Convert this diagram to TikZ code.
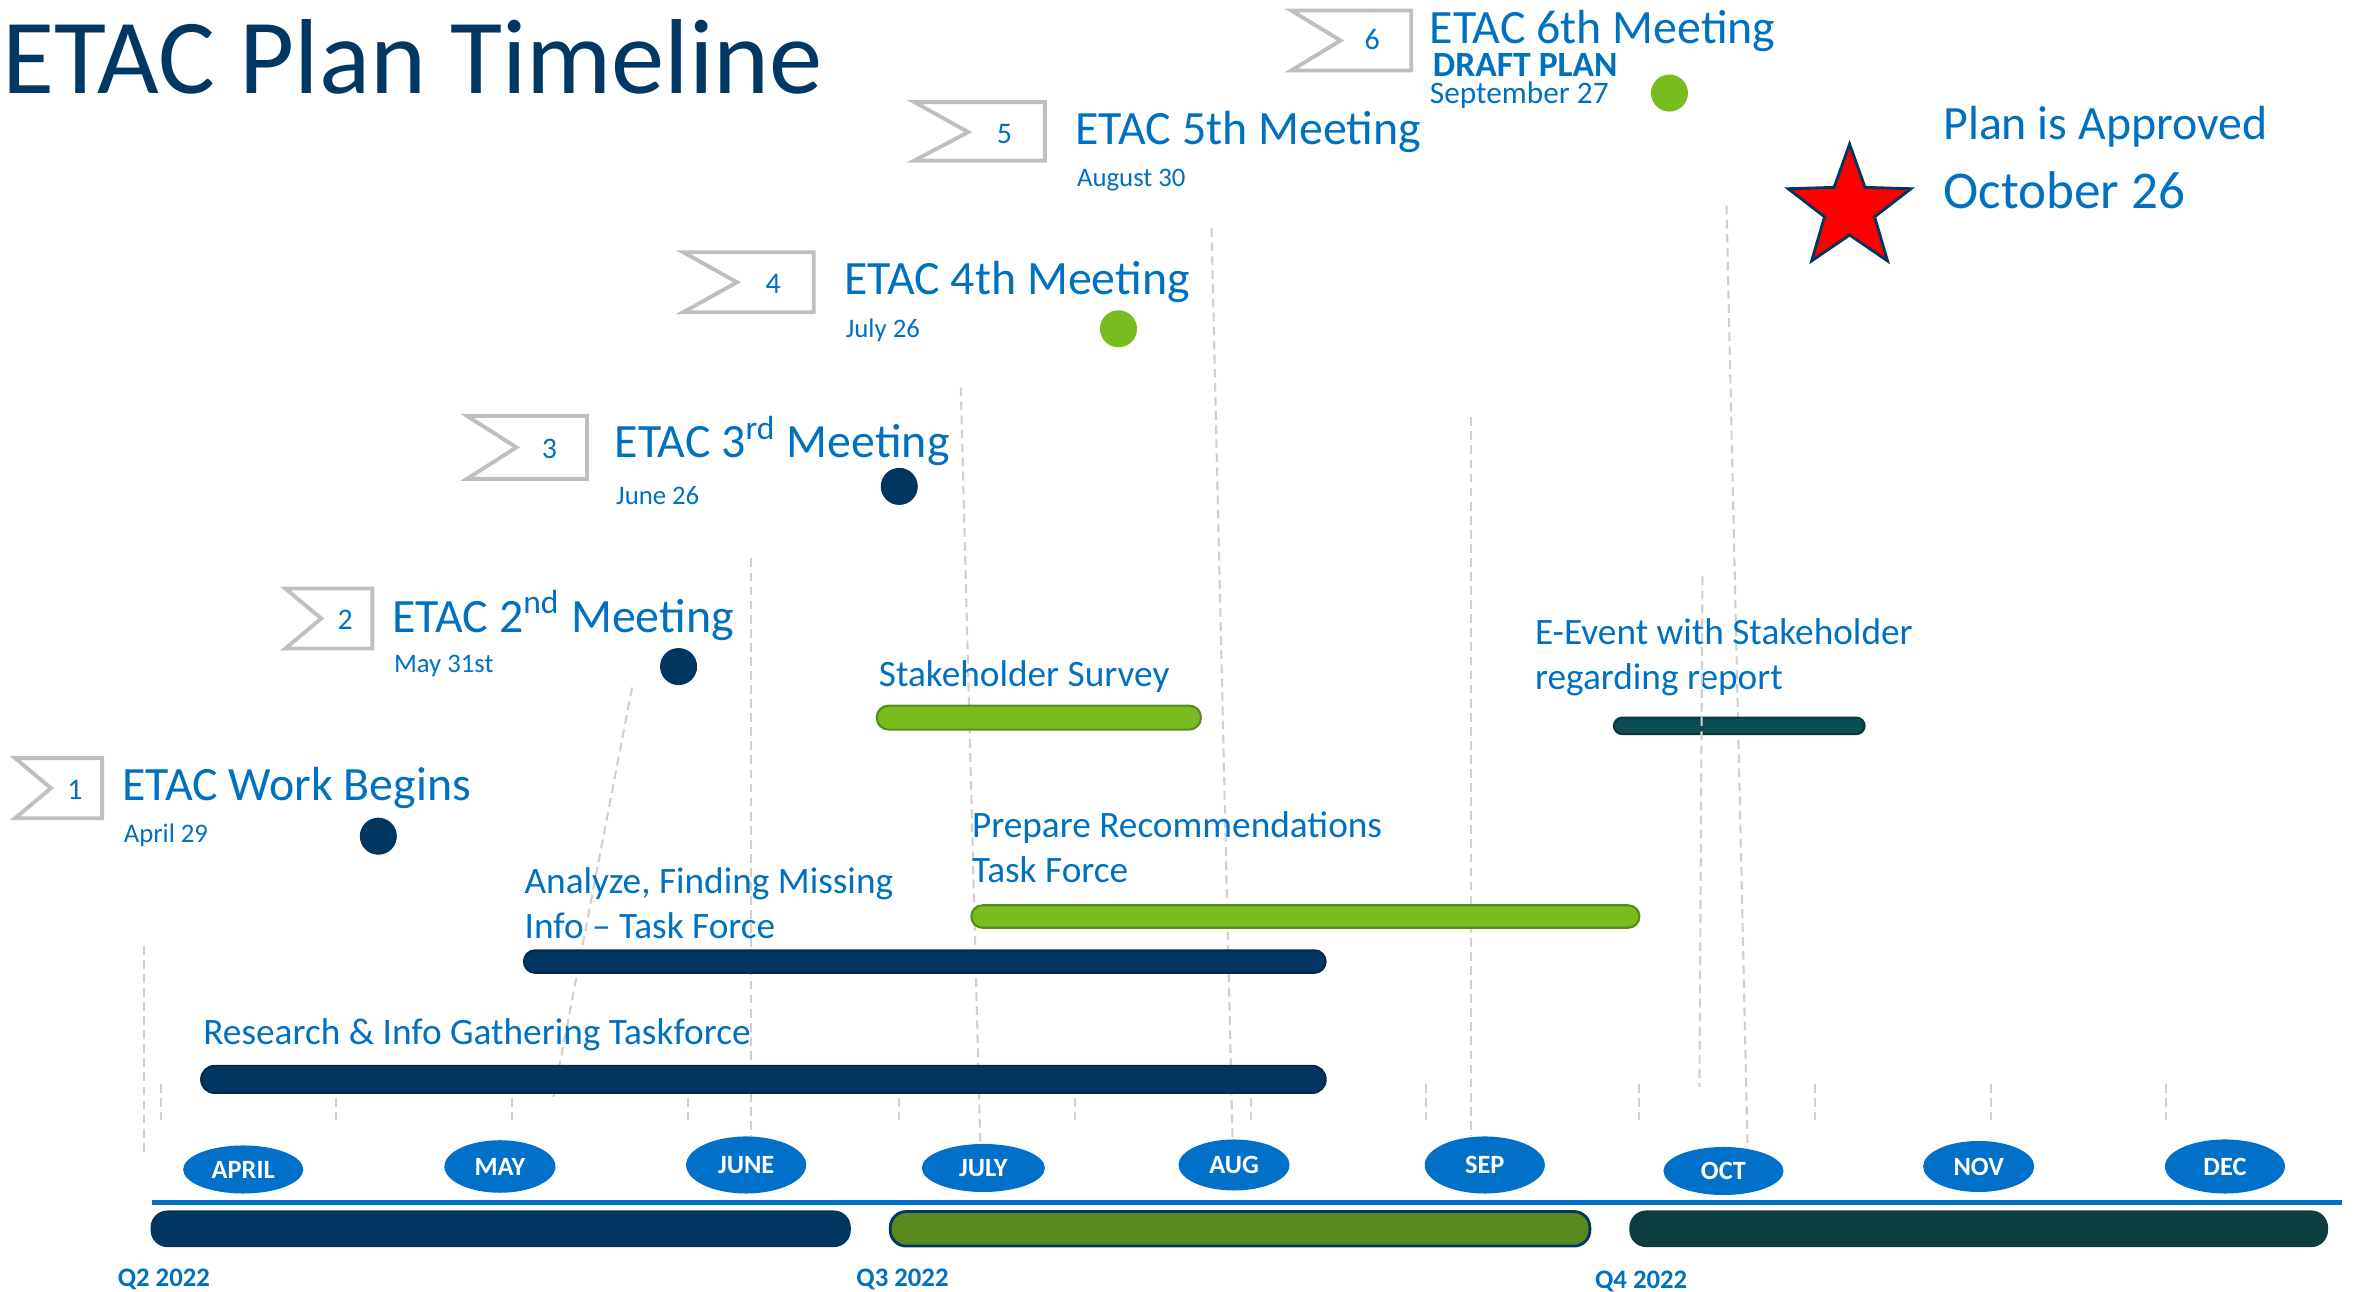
\documentclass[tikz,border=0pt]{standalone}
\usepackage{fontspec}
\setmainfont{Carlito}
\usetikzlibrary{shapes.geometric}
\definecolor{titlenavy}{RGB}{0,56,101}
\definecolor{textblue}{RGB}{0,112,192}
\definecolor{navy}{RGB}{0,54,96}
\definecolor{lgreen}{RGB}{120,188,32}
\definecolor{lgreenborder}{RGB}{88,140,30}
\definecolor{dteal}{RGB}{13,77,82}
\definecolor{bteal}{RGB}{14,61,64}
\definecolor{dgreen}{RGB}{90,138,30}
\definecolor{monthblue}{RGB}{0,112,201}
\definecolor{flaggray}{RGB}{191,191,191}
\definecolor{dashgray}{RGB}{208,208,208}
\begin{document}
\begin{tikzpicture}[x=0.015cm,y=-0.015cm,
  txt/.style={anchor=base west, inner sep=0, text=textblue},
  head/.style={txt, font=\fontsize{13.6}{16}\selectfont},
  datetxt/.style={txt, font=\fontsize{7.6}{9}\selectfont},
  task/.style={txt, font=\fontsize{10.6}{12.8}\selectfont},
  flagbox/.style={draw=flaggray, line width=1.1pt, line join=miter},
  flagnum/.style={inner sep=0, text=textblue, font=\fontsize{8.5}{10}\selectfont},
  dot/.style={circle, inner sep=0, minimum size=0.37cm},
  month/.style={ellipse, fill=monthblue, inner sep=0, text=white, font=\bfseries\fontsize{7.5}{9}\selectfont},
  quarter/.style={txt, font=\bfseries\fontsize{7.6}{9}\selectfont},
  dashline/.style={draw=dashgray, line width=0.6pt, dash pattern=on 2.5pt off 1.5pt},
  greenbar/.style={fill=lgreen, draw=lgreenborder, line width=0.6pt},
  navybar/.style={fill=navy, draw=navy!80!black, line width=0.6pt}
]
\useasboundingbox (0,0) rectangle (1568,860);

% dashed guide lines
\draw[dashline] (96,630) -- (96,770);
\foreach \x in {107,224,341,458,599,716,833,950,1092,1209,1326,1443}
  \draw[dashline] (\x,722) -- (\x,746);
\draw[dashline] (421,458) -- (368,734);
\draw[dashline] (500,372) -- (500,758);
\draw[dashline] (640,258) -- (653,763);
\draw[dashline] (807,152) -- (821,760);
\draw[dashline] (980,278) -- (980,757);
\draw[dashline] (1150,137) -- (1164,762);

% title
\node[anchor=base west, inner sep=0, text=titlenavy, font=\fontsize{30.3}{36}\selectfont] (title) at (1,62) {ETAC Plan Timeline};

% flags
\draw[flagbox] (10,505) -- (68,505) -- (68,545) -- (10,545) -- (34,525) -- cycle;
\node[flagnum] (f1) at (50,526) {1};
\draw[flagbox] (190,392) -- (248,392) -- (248,432) -- (190,432) -- (214,412) -- cycle;
\node[flagnum] (f2) at (230,413) {2};
\draw[flagbox] (311,277) -- (391,277) -- (391,319) -- (311,319) -- (344,298) -- cycle;
\node[flagnum] (f3) at (366,299) {3};
\draw[flagbox] (455,168) -- (542,168) -- (542,208) -- (455,208) -- (491,188) -- cycle;
\node[flagnum] (f4) at (515,189) {4};
\draw[flagbox] (609,68) -- (696,68) -- (696,107) -- (609,107) -- (645,88) -- cycle;
\node[flagnum] (f5) at (669,89) {5};
\draw[flagbox] (860,7) -- (940,7) -- (940,47) -- (860,47) -- (893,27) -- cycle;
\node[flagnum] (f6) at (914,26) {6};

% meeting texts
\node[head] (h1) at (81,533) {ETAC Work Begins};
\node[datetxt] (t1) at (82,561) {April 29};
\node[head] (h2) at (261,421) {ETAC 2\textsuperscript{nd} Meeting};
\node[datetxt] (t2) at (262,448) {May 31st};
\node[head] (h3) at (409,305) {ETAC 3\textsuperscript{rd} Meeting};
\node[datetxt] (t3) at (410,336) {June 26};
\node[head] (h4) at (562,196) {ETAC 4th Meeting};
\node[datetxt] (t4) at (563,225) {July 26};
\node[head] (h5) at (716,96) {ETAC 5th Meeting};
\node[datetxt] (t5) at (717,124) {August 30};
\node[head] (h6) at (952,29) {ETAC 6th Meeting};
\node[txt, font=\bfseries\fontsize{10.1}{12}\selectfont] (dp) at (954,51) {DRAFT PLAN};
\node[txt, font=\fontsize{8.9}{10}\selectfont] (t6) at (952,69) {September 27};

% dots
\node[dot, fill=navy] (d1) at (252,557) {};
\node[dot, fill=navy] (d2) at (452,444) {};
\node[dot, fill=navy] (d3) at (599,324) {};
\node[dot, fill=lgreen] (d4) at (745,219) {};
\node[dot, fill=lgreen] (d6) at (1112,62) {};

% star
\node[star, star points=5, star point ratio=2.45, minimum size=86*0.015cm, inner sep=0, fill=red, draw=navy, line width=0.8pt] (star) at (1232,139) {};
\node[txt, font=\fontsize{13.6}{16}\selectfont] (ap1) at (1294,93) {Plan is Approved};
\node[txt, font=\fontsize{15.1}{18}\selectfont] (ap2) at (1294,139) {October 26};

% tasks
\node[task] (ss) at (585,457) {Stakeholder Survey};
\draw[greenbar, rounded corners=3.4pt] (584,470) rectangle (800,486);

\node[task] (ee1) at (1022,429) {E-Event with Stakeholder};
\node[task] (ee2) at (1022,459) {regarding report};
\draw[fill=dteal, draw=dteal!70!black, line width=0.6pt, rounded corners=2.4pt] (1075,478) rectangle (1242,489);
\draw[dashline] (1134,384) -- (1132,724);

\node[task] (pr1) at (647,558) {Prepare Recommendations};
\node[task] (pr2) at (647,588) {Task Force};
\draw[greenbar, rounded corners=3.2pt] (647,603) rectangle (1092,618);

\node[task] (an1) at (349,595) {Analyze, Finding Missing};
\node[task] (an2) at (349,625) {Info – Task Force};
\draw[navybar, rounded corners=3.2pt] (349,633) rectangle (883,648);

\node[task] (rs) at (135,696) {Research \& Info Gathering Taskforce};
\draw[navybar, rounded corners=3.8pt] (134,710) rectangle (883,728);

% months
\foreach \x/\y/\w/\h/\t in {162/779/80/32/APRIL, 333/777/74/35/MAY, 497/776/80/38/JUNE, 655/778/82/32/JULY, 822/776/74/34/AUG, 989/776/80/38/SEP, 1148/780/80/32/OCT, 1318/777/74/34/NOV, 1482/777/80/36/DEC}
  \node[month, minimum width=\w*0.015cm, minimum height=\h*0.015cm] (m\t) at (\x,\y) {\t};

% axis line
\draw[monthblue, line width=1.3pt] (101,801) -- (1560,801);

% quarter bars
\draw[fill=navy, draw=navy, line width=0.6pt, rounded corners=4.5pt] (101,807) rectangle (566,830);
\draw[fill=dgreen, draw=navy, line width=0.8pt, rounded corners=4.5pt] (593,807) rectangle (1059,830);
\draw[fill=bteal, draw=bteal, line width=0.6pt, rounded corners=4.5pt] (1086,807) rectangle (1550,830);

\node[quarter] (q2) at (78,857) {Q2 2022};
\node[quarter] (q3) at (570,857) {Q3 2022};
\node[quarter] (q4) at (1062,858) {Q4 2022};
\end{tikzpicture}
\end{document}
